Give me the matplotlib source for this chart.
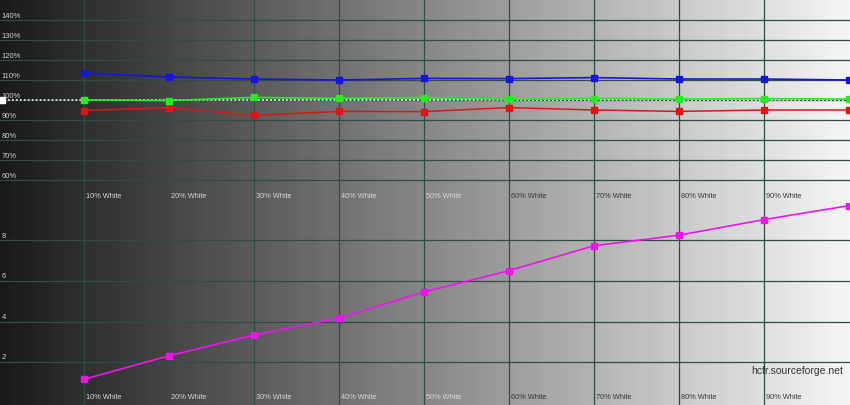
import numpy as np
import matplotlib
matplotlib.use('Agg')
import matplotlib.pyplot as plt

# gray scale steps (% white)
steps = [10, 20, 30, 40, 50, 60, 70, 80, 90, 100]
step_labels = ['10% White', '20% White', '30% White', '40% White', '50% White',
               '60% White', '70% White', '80% White', '90% White']

# RGB levels (%)
red_lvl = [94.7, 96.2, 92.3, 94.3, 94.2, 96.2, 95.0, 94.3, 95.0, 95.0]
green_lvl = [100.0, 99.7, 101.3, 100.8, 101.2, 100.3, 100.7, 100.5, 100.7, 100.5]
blue_lvl = [113.5, 111.5, 110.5, 110.0, 110.8, 110.7, 111.2, 110.5, 110.5, 110.0]

# delta E per step
delta_e = [1.15, 2.31, 3.33, 4.17, 5.46, 6.51, 7.74, 8.26, 9.03, 9.72]

rgb_ticks = [60, 70, 80, 90, 100, 110, 120, 130, 140]
de_ticks = [2, 4, 6, 8]

W, H = 850, 405
fig = plt.figure(figsize=(W / 100, H / 100), dpi=100)

# background gradient, dark -> light
bg = fig.add_axes([0, 0, 1, 1])
grad = np.linspace(0.10, 0.96, 256)
bg.imshow(np.tile(grad, (2, 1)), cmap='gray', vmin=0, vmax=1, aspect='auto',
          extent=[0, 1, 0, 1])
bg.set_axis_off()

split = 203 / H
ax1 = fig.add_axes([0, 1 - split, 1, split])
ax2 = fig.add_axes([0, 0, 1, 1 - split])
grid_c = '#2e4d45'
for ax in (ax1, ax2):
    ax.set_facecolor('none')
    ax.set_xlim(0.12, 100.12)
    for s in ax.spines.values():
        s.set_visible(False)
    ax.set_xticks([])
    ax.set_yticks([])
    for x in steps[:-1]:
        ax.axvline(x, color=grid_c, lw=0.9, zorder=1)

ax1.set_ylim(48.5, 150)
ax2.set_ylim(-0.12, 9.85)

for v in rgb_ticks:
    ax1.axhline(v, color=grid_c, lw=0.9, zorder=1)
    ax1.text(0.3, v + 2, '%d%%' % v, fontsize=5.5, color='#d0d0d0',
             family='Liberation Sans', va='center', ha='left')
for v in de_ticks:
    ax2.axhline(v, color=grid_c, lw=0.9, zorder=1)
    ax2.text(0.3, v + 0.2, '%d' % v, fontsize=5.5, color='#d0d0d0',
             family='Liberation Sans', va='center', ha='left')

# reference line at 100%
ax1.plot([0.12, 100.12], [100, 100], color='#e8e8e8', lw=1.3, ls=(0, (1, 1.2)), zorder=2)
ax1.plot([0.4], [100], marker='s', ms=4, color='white', zorder=3, clip_on=False)

ax1.plot(steps, blue_lvl, color='#1414e6', lw=1.2, marker='s', ms=4.5, zorder=4)
ax1.plot(steps, red_lvl, color='#e01414', lw=1.1, marker='s', ms=4.5, zorder=4)
ax1.plot(steps, green_lvl, color='#22ee22', lw=1.2, marker='s', ms=4.5, zorder=5)

ax2.plot(steps, delta_e, color='#ee14ee', lw=1.2, marker='s', ms=4.5, zorder=4)

for i, lab in enumerate(step_labels):
    c = '#d8d8d8' if i < 5 else '#383838'
    ax1.text(steps[i] + 0.2, 52, lab, fontsize=5.3, color=c,
             family='Liberation Sans', va='center', ha='left')
    ax2.text(steps[i] + 0.2, 0.25, lab, fontsize=5.3, color=c,
             family='Liberation Sans', va='center', ha='left')

fig.text(843 / W, 1 - 371 / H, 'hcfr.sourceforge.net', fontsize=7.5, color='#333333',
         family='Liberation Sans', ha='right', va='center')

fig.savefig('out.png', dpi=100)
